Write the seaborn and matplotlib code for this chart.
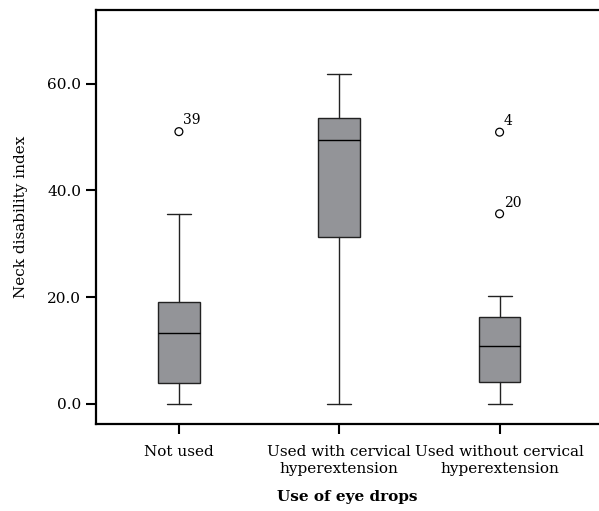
import numpy as np
import pandas as pd
import seaborn as sns
import matplotlib
matplotlib.use("Agg")
import matplotlib.pyplot as plt

# values
groups = ["Not used", "Used with cervical\nhyperextension", "Used without cervical\nhyperextension"]
whislo = [0.0, 0.0, 0.0]
q1 = [3.9, 31.3, 4.0]
med = [13.2, 49.4, 10.9]
q3 = [19.0, 53.6, 16.2]
whishi = [35.6, 61.8, 20.1]

outlier_group = [0, 2, 2]
outlier_value = [51.0, 50.9, 35.6]
outlier_label = ["39", "4", "20"]

yticks = [0, 20, 40, 60]

sns.set_theme(style="white")
plt.rcParams['font.family'] = ['DejaVu Serif']
plt.rcParams['text.color'] = 'black'
plt.rcParams['axes.labelcolor'] = 'black'
plt.rcParams['xtick.color'] = 'black'
plt.rcParams['ytick.color'] = 'black'

fig = plt.figure(figsize=(5.99, 5.11), dpi=100)
ax = fig.add_axes([96 / 599, 1 - 424 / 511, 1 - 96 / 599, 414 / 511])

stats = []
for i in range(len(groups)):
    stats.append(dict(whislo=whislo[i], q1=q1[i], med=med[i], q3=q3[i],
                      whishi=whishi[i], fliers=[], label=groups[i]))

ax.bxp(stats, positions=range(len(groups)), widths=0.26, showfliers=False,
       patch_artist=True,
       boxprops=dict(facecolor="#939498", edgecolor="#222222", linewidth=1.0),
       medianprops=dict(color="black", linewidth=1.0),
       whiskerprops=dict(color="#222222", linewidth=1.0),
       capprops=dict(color="#222222", linewidth=1.0),
       capwidths=0.15)

out = pd.DataFrame({"x": outlier_group, "y": outlier_value})
sns.scatterplot(data=out, x="x", y="y", ax=ax, marker="o", s=32,
                facecolors="none", edgecolor="black", linewidth=0.9, zorder=5)
for gx, v, lab in zip(outlier_group, outlier_value, outlier_label):
    ax.annotate(lab, (gx, v), xytext=(3, 3), textcoords="offset points",
                fontsize=10, ha="left", va="bottom")

ax.set_xlim(-0.517, 2.62)
ax.set_ylim(-3.8, 73.8)
ax.set_xticks(range(len(groups)))
ax.set_xticklabels(groups, fontsize=11, linespacing=1.3)
ax.set_yticks(yticks)
ax.set_yticklabels([f"{t:.1f}" for t in yticks], fontsize=11)
ax.tick_params(axis="both", direction="out", length=7, width=1.5, color="black",
               bottom=True, left=True)
ax.tick_params(axis="x", pad=8)
ax.set_xlabel("Use of eye drops", fontsize=11, fontweight="bold", labelpad=10)
ax.set_ylabel("Neck disability index", fontsize=11, labelpad=14)
for s in ["left", "top", "bottom"]:
    ax.spines[s].set_visible(True)
    ax.spines[s].set_color("black")
    ax.spines[s].set_linewidth(1.6)
ax.spines["right"].set_visible(False)
ax.grid(False)

fig.savefig("out.png", dpi=100)
